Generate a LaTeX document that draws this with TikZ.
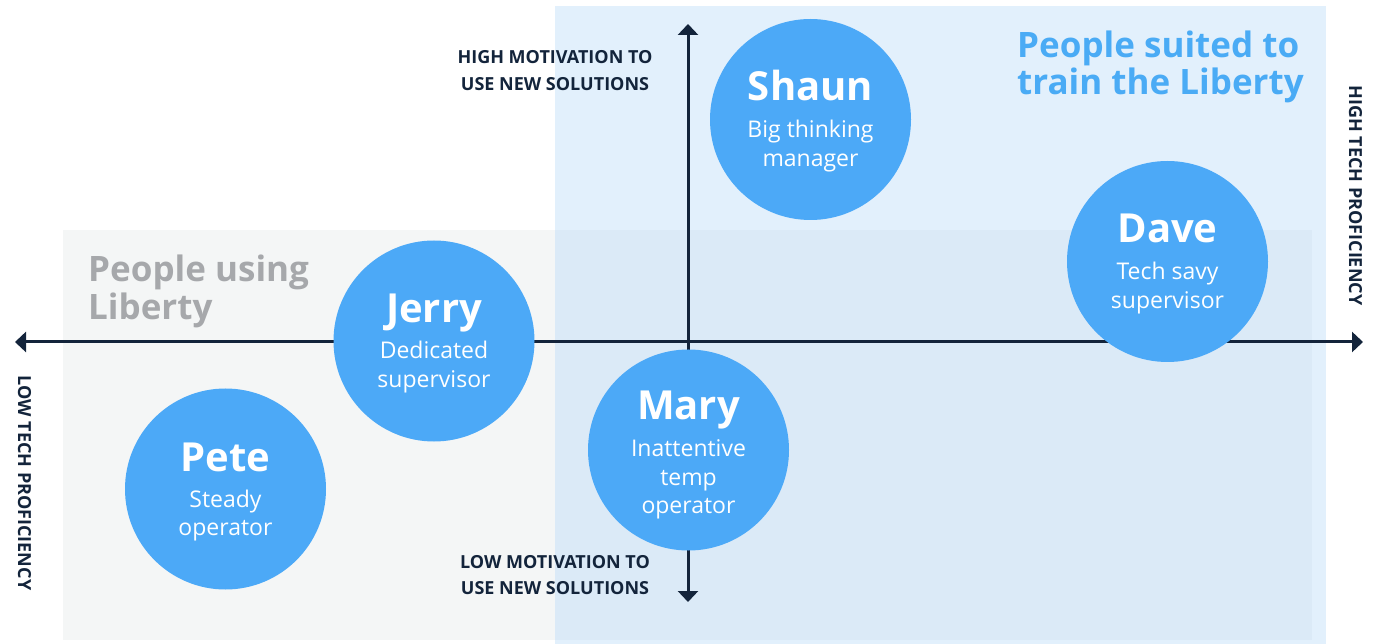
\documentclass[tikz,border=0pt]{standalone}
\usepackage{fontspec}
\setmainfont{Open Sans}
\usetikzlibrary{arrows.meta}
\definecolor{navy}{HTML}{13243B}
\definecolor{circ}{HTML}{4CA9F7}
\definecolor{bluebg}{HTML}{E2F0FC}
\definecolor{graybg}{HTML}{F4F6F6}
\definecolor{overlapbg}{HTML}{DBEAF7}
\definecolor{titleblue}{HTML}{4AABF5}
\definecolor{titlegray}{HTML}{A6A8AB}
\begin{document}
\begin{tikzpicture}[x=1pt,y=-1pt,
  axis/.style={line width=3pt, draw=navy, {Triangle[width=20pt,length=11pt]}-{Triangle[width=20pt,length=11pt]}},
  person/.style={circle, fill=circ, minimum size=201pt, inner sep=0pt},
  pname/.style={anchor=base, inner sep=0pt, text=white, font=\bfseries\fontsize{40}{40}\selectfont},
  psub/.style={anchor=base, inner sep=0pt, text=white, font=\fontsize{23}{29}\selectfont},
  axlabel/.style={anchor=base, inner sep=0pt, text=navy, font=\bfseries\fontsize{18}{20}\selectfont},
  sidelabel/.style={rotate=-90, inner sep=0pt, text=navy, font=\bfseries\fontsize{18}{20}\selectfont},
  title/.style={anchor=base west, inner sep=0pt, font=\bfseries\fontsize{35}{37}\selectfont}
]
\useasboundingbox (0,0) rectangle (1377,644);
% background zones
\fill[graybg] (63,230) rectangle (1312,640);
\fill[bluebg] (555,6) rectangle (1326,644);
\fill[overlapbg] (555,230) rectangle (1312,640);

% axes
\coordinate (W) at (15,342);
\coordinate (E) at (1363,342);
\coordinate (N) at (688,24);
\coordinate (S) at (688,602);
\draw[axis] (W) -- (E);
\draw[axis] (N) -- (S);

% zone titles
\node[title, text=titleblue] (t1a) at (1017,58) {People suited to};
\node[title, text=titleblue] (t1b) at (1017,95) {train the Liberty};
\node[title, text=titlegray] (t2a) at (88,282) {People using};
\node[title, text=titlegray] (t2b) at (88,320) {Liberty};

% axis labels
\node[axlabel] (hm1) at (555,64) {HIGH MOTIVATION TO};
\node[axlabel] (hm2) at (555,91) {USE NEW SOLUTIONS};
\node[axlabel] (lm1) at (555,568) {LOW MOTIVATION TO};
\node[axlabel] (lm2) at (555,594) {USE NEW SOLUTIONS};
\node[sidelabel] (ht) at (1355.5,195.5) {HIGH TECH PROFICIENCY};
\node[sidelabel] (lt) at (24.5,483) {LOW TECH PROFICIENCY};

% people
\node[person] (shaun) at (810.5,119.5) {};
\node[pname] (shaunN) at ([yshift=18.5pt]shaun.center) {Shaun};
\node[psub] (shaunA) at ([yshift=-18.5pt]shaun.center) {Big thinking};
\node[psub] (shaunB) at ([yshift=-47.5pt]shaun.center) {manager};

\node[person] (dave) at (1167.5,261.5) {};
\node[pname] (daveN) at ([yshift=18.5pt]dave.center) {Dave};
\node[psub] (daveA) at ([yshift=-18pt]dave.center) {Tech savy};
\node[psub] (daveB) at ([yshift=-47pt]dave.center) {supervisor};

\node[person] (jerry) at (434,341) {};
\node[pname] (jerryN) at ([yshift=18.5pt]jerry.center) {Jerry};
\node[psub] (jerryA) at ([yshift=-18pt]jerry.center) {Dedicated};
\node[psub] (jerryB) at ([yshift=-47pt]jerry.center) {supervisor};

\node[person] (mary) at (688.5,450) {};
\node[pname] (maryN) at ([yshift=30pt]mary.center) {Mary};
\node[psub] (maryA) at ([yshift=-6pt]mary.center) {Inattentive};
\node[psub] (maryB) at ([yshift=-35pt]mary.center) {temp};
\node[psub] (maryC) at ([yshift=-63pt]mary.center) {operator};

\node[person] (pete) at (225.5,489) {};
\node[pname] (peteN) at ([yshift=18pt]pete.center) {Pete};
\node[psub] (peteA) at ([yshift=-18pt]pete.center) {Steady};
\node[psub] (peteB) at ([yshift=-46pt]pete.center) {operator};
\end{tikzpicture}
\end{document}
